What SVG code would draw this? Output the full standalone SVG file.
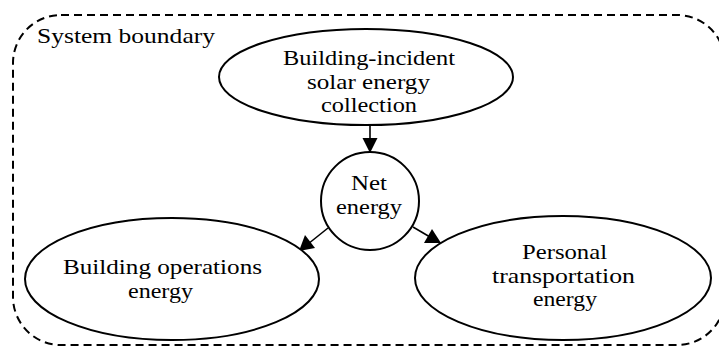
<svg xmlns="http://www.w3.org/2000/svg" width="719" height="348" viewBox="0 0 719 348">
  <style>
    .node { fill: #fff; stroke: #000; stroke-width: 2; }
    .lbl { font-family: "Liberation Serif", "Times New Roman", serif; font-size: 22px; fill: #000; text-anchor: middle; }
    .edge { stroke: #000; stroke-width: 1.6; fill: none; }
    .head { fill: #000; }
    .boundary { fill: none; stroke: #000; stroke-width: 2; stroke-dasharray: 8 5; }
  </style>

  <rect width="719" height="348" fill="#fff"/>

  <!-- system boundary (right edge runs just past the canvas) -->
  <g id="boundary">
    <rect class="boundary" x="13" y="15" width="712" height="330" rx="48" ry="48"/>
    <text class="lbl" x="37" y="43" style="text-anchor:start" textLength="178" lengthAdjust="spacingAndGlyphs">System boundary</text>
  </g>

  <!-- connectors -->
  <g id="connectors">
    <line class="edge" x1="370" y1="125" x2="370" y2="140"/>
    <path class="head" d="M362.5,138 L377.5,138 L370,153 z"/>
    <line class="edge" x1="328" y1="228" x2="308" y2="244"/>
    <path class="head" d="M299,251 L305,235 L315,248 z"/>
    <line class="edge" x1="413" y1="227" x2="430" y2="237"/>
    <path class="head" d="M441,243 L424,243 L432,229 z"/>
  </g>

  <g id="solar">
    <ellipse class="node" cx="366" cy="77" rx="147" ry="48"/>
    <text class="lbl" x="369" y="65" textLength="172" lengthAdjust="spacingAndGlyphs">Building-incident</text>
    <text class="lbl" x="368.5" y="88.5" textLength="123" lengthAdjust="spacingAndGlyphs">solar energy</text>
    <text class="lbl" x="369" y="112" textLength="96" lengthAdjust="spacingAndGlyphs">collection</text>
  </g>

  <g id="net">
    <circle class="node" cx="370" cy="201" r="49"/>
    <text class="lbl" x="369" y="190" textLength="36" lengthAdjust="spacingAndGlyphs">Net</text>
    <text class="lbl" x="369" y="213.5" textLength="66" lengthAdjust="spacingAndGlyphs">energy</text>
  </g>

  <g id="building">
    <ellipse class="node" cx="172" cy="279" rx="147" ry="61"/>
    <text class="lbl" x="162.5" y="274" textLength="199" lengthAdjust="spacingAndGlyphs">Building operations</text>
    <text class="lbl" x="160.5" y="297.5" textLength="65" lengthAdjust="spacingAndGlyphs">energy</text>
  </g>

  <g id="transport">
    <ellipse class="node" cx="563" cy="278" rx="148" ry="62"/>
    <text class="lbl" x="564.5" y="259" textLength="85" lengthAdjust="spacingAndGlyphs">Personal</text>
    <text class="lbl" x="563.5" y="282.5" textLength="143" lengthAdjust="spacingAndGlyphs">transportation</text>
    <text class="lbl" x="565" y="306" textLength="64" lengthAdjust="spacingAndGlyphs">energy</text>
  </g>
</svg>
